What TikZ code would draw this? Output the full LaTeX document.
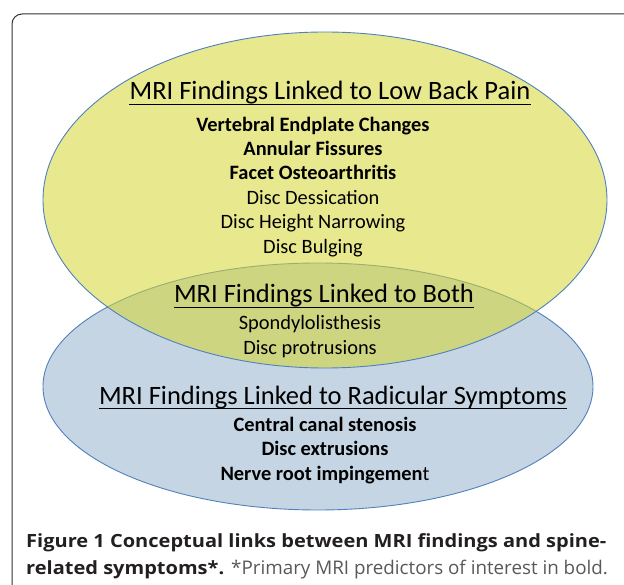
\documentclass[tikz,border=0pt]{standalone}
\usepackage{fontspec}
\setmainfont{Carlito}
\newfontfamily\capfont[FakeStretch=1.1]{Open Sans}
\newfontfamily\caplfont{Open Sans}
\usetikzlibrary{calc}
\definecolor{ellblue}{HTML}{C6D5E3}
\definecolor{ellyellow}{HTML}{D6D532}
\definecolor{ellline}{HTML}{4F81BD}
\definecolor{captxt}{HTML}{231F20}
\tikzset{
  ttl/.style={inner sep=0pt, anchor=base, font=\fontsize{26.5}{30}\selectfont},
  itm/.style={inner sep=0pt, anchor=base, font=\fontsize{20.4}{24}\selectfont},
  bitm/.style={itm, font=\fontsize{20.4}{24}\selectfont\bfseries},
  capl/.style={inner sep=0pt, anchor=base west, text=captxt},
  uline/.style={line width=1.8pt}
}
\newcommand{\capbold}{\capfont\fontsize{18.2}{22}\selectfont\bfseries}
\newcommand{\caplight}{\caplfont\fontsize{18.8}{22}\selectfont\mdseries\color{captxt!75}}
\begin{document}
\begin{tikzpicture}[x=1pt,y=-1pt]
\useasboundingbox (0,0) rectangle (624,585);
\clip (0,0) rectangle (624,585);
% frame
\draw[line width=1pt, draw=black!80, rounded corners=10pt] (12,14) rectangle (660,620);
% ellipses
\draw[fill=ellblue, draw=ellline, line width=0.9pt] (318,386.5) ellipse [x radius=275, y radius=123.5];
\draw[fill=ellyellow, fill opacity=0.55, draw=ellline, line width=0.9pt] (325,200) ellipse [x radius=282, y radius=168];
% top group
\node[ttl] (t1) at (330,100) {MRI Findings Linked to Low Back Pain};
\draw[uline] ($(t1.base west)+(0,4.5)$) -- ($(t1.base east)+(0,4.5)$);
\node[bitm] (a1) at (313,132) {Vertebral Endplate Changes};
\node[bitm] (a2) at (313,156) {Annular Fissures};
\node[bitm] (a3) at (313,180) {Facet Osteoarthritis};
\node[itm] (a4) at (313,204.5) {Disc Dessication};
\node[itm] (a5) at (313,229) {Disc Height Narrowing};
\node[itm] (a6) at (313,253.5) {Disc Bulging};
% both
\node[ttl] (t2) at (324,303) {MRI Findings Linked to Both};
\draw[uline] ($(t2.base west)+(0,4.5)$) -- ($(t2.base east)+(0,4.5)$);
\node[itm] (b1) at (310,330) {Spondylolisthesis};
\node[itm] (b2) at (310,354.5) {Disc protrusions};
% radicular
\node[ttl] (t3) at (333,404) {MRI Findings Linked to Radicular Symptoms};
\draw[uline] ($(t3.base west)+(0,4.5)$) -- ($(t3.base east)+(0,4.5)$);
\node[bitm] (c1) at (325,431) {Central canal stenosis};
\node[bitm] (c2) at (325,455.5) {Disc extrusions};
\node[itm] (c3) at (325,480) {\bfseries Nerve root impingemen\mdseries t};
% caption
\node[capl] (cap1) at (26,547) {\capbold Figure 1 Conceptual links between MRI findings and spine-};
\node[capl] (cap2) at (26,574) {\capbold related symptoms*. \caplight*Primary MRI predictors of interest in bold.};
\end{tikzpicture}
\end{document}
